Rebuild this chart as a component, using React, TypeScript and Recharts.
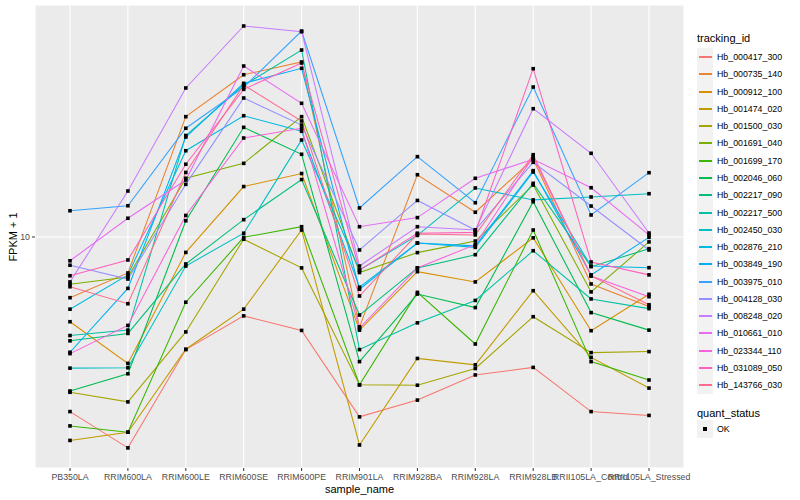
import React from 'react';
import { LineChart, Line, XAxis, YAxis, CartesianGrid } from 'recharts';

const FONT = "'Liberation Sans', Arial, Helvetica, sans-serif";

const samples = [
  'PB350LA', 'RRIM600LA', 'RRIM600LE', 'RRIM600SE', 'RRIM600PE', 'RRIM901LA',
  'RRIM928BA', 'RRIM928LA', 'RRIM928LB', 'RRII105LA_Control', 'RRII105LA_Stressed',
];

const trackingIds = [
  'Hb_000417_300', 'Hb_000735_140', 'Hb_000912_100', 'Hb_001474_020', 'Hb_001500_030',
  'Hb_001691_040', 'Hb_001699_170', 'Hb_002046_060', 'Hb_002217_090', 'Hb_002217_500',
  'Hb_002450_030', 'Hb_002876_210', 'Hb_003849_190', 'Hb_003975_010', 'Hb_004128_030',
  'Hb_008248_020', 'Hb_010661_010', 'Hb_023344_110', 'Hb_031089_050', 'Hb_143766_030',
];

const colors = [
  '#F8766D', '#EA8331', '#D89000', '#C09B00', '#A3A500', '#7CAE00', '#39B600', '#00BB4E',
  '#00BF7D', '#00C1A3', '#00BFC4', '#00BAE0', '#00B0F6', '#35A2FF', '#9590FF', '#C77CFF',
  '#E76BF3', '#FA62DB', '#FF62BC', '#FF6C90',
];

// FPKM + 1 values per sample (same order as samples)
const hb000417_300 = [3.66, 2.97, 5.23, 6.35, 5.84, 3.55, 3.91, 4.52, 4.72, 3.66, 3.58];
const hb000735_140 = [7.05, 8.13, 19.99, 25.45, 27.39, 5.96, 14.31, 11.53, 15.67, 7.63, 6.7];
const hb000912_100 = [6.14, 4.83, 9.15, 13.37, 14.41, 5.85, 8.19, 7.72, 9.95, 5.83, 7.19];
const hb001474_020 = [3.1, 3.25, 5.24, 6.6, 10.41, 3.02, 4.97, 4.79, 7.34, 5.0, 4.19];
const hb001500_030 = [4.09, 3.87, 5.79, 9.87, 8.37, 4.27, 4.26, 4.69, 6.32, 5.14, 5.17];
const hb001691_040 = [7.62, 7.94, 14.02, 15.28, 19.99, 8.15, 9.14, 9.77, 13.49, 7.29, 9.72];
const hb001699_170 = [3.37, 3.25, 6.87, 9.98, 10.61, 4.27, 7.27, 5.4, 10.41, 4.88, 4.39];
const hb002046_060 = [4.12, 4.55, 10.98, 18.8, 16.1, 4.88, 7.2, 6.66, 12.25, 6.47, 5.85];
const hb002217_090 = [5.5, 5.74, 8.56, 11.05, 13.92, 6.38, 8.37, 9.03, 13.62, 8.43, 9.35];
const hb002217_500 = [5.67, 5.85, 17.94, 23.95, 29.34, 5.23, 6.1, 6.94, 9.24, 7.0, 6.62];
const hb002450_030 = [4.7, 4.71, 8.46, 10.22, 17.48, 8.27, 10.09, 13.26, 12.38, 12.59, 12.83];
const hb002876_210 = [6.6, 8.04, 16.43, 20.1, 18.38, 7.49, 9.66, 9.42, 14.54, 8.46, 8.38];
const hb003849_190 = [5.15, 7.44, 17.78, 24.22, 26.41, 7.4, 9.66, 9.5, 14.65, 8.04, 9.98];
const hb003975_010 = [11.63, 11.97, 18.7, 23.67, 32.73, 11.82, 15.88, 12.18, 23.71, 11.35, 14.48];
const hb004128_030 = [8.5, 7.85, 13.54, 22.26, 19.05, 9.28, 12.34, 10.41, 15.37, 11.95, 9.28];
const hb008248_020 = [7.72, 13.03, 23.58, 33.69, 32.6, 8.46, 10.61, 10.41, 20.93, 16.19, 10.23];
const hb010661_010 = [8.72, 11.14, 13.88, 26.76, 21.59, 10.61, 11.18, 14.02, 15.64, 13.28, 10.12];
const hb023344_110 = [5.11, 6.01, 11.32, 17.68, 18.7, 5.92, 8.37, 9.57, 15.88, 7.99, 7.09];
const hb031089_050 = [8.0, 8.76, 15.2, 23.4, 27.23, 8.26, 10.22, 10.27, 26.35, 8.66, 8.04];
const hb143766_030 = [7.51, 6.81, 14.5, 23.99, 19.5, 7.12, 10.17, 10.12, 16.06, 7.99, 6.77];

const seriesValues = [
  hb000417_300, hb000735_140, hb000912_100, hb001474_020, hb001500_030,
  hb001691_040, hb001699_170, hb002046_060, hb002217_090, hb002217_500,
  hb002450_030, hb002876_210, hb003849_190, hb003975_010, hb004128_030,
  hb008248_020, hb010661_010, hb023344_110, hb031089_050, hb143766_030,
];

const yTicks = [10];

const data = samples.map((s, i) => {
  const row: Record<string, any> = { sample: s };
  trackingIds.forEach((id, k) => {
    row[id] = seriesValues[k][i];
  });
  return row;
});

const SquareDot = (props: any) => {
  const { cx, cy, index, dataKey } = props;
  if (cx == null || cy == null) return <g key={`${dataKey}-${index}`} />;
  return (
    <rect
      key={`${dataKey}-${index}`}
      x={cx - 1.8}
      y={cy - 1.8}
      width={3.6}
      height={3.6}
      fill="#000000"
    />
  );
};

const YTitle = () => (
  <text
    x={13}
    y={237}
    transform="rotate(-90 13 237)"
    textAnchor="middle"
    dominantBaseline="central"
    fontSize={11}
    fontFamily={FONT}
    fill="#000"
  >
    FPKM + 1
  </text>
);

const XTitle = () => (
  <text
    x={359.5}
    y={489}
    textAnchor="middle"
    dominantBaseline="central"
    fontSize={11}
    fontFamily={FONT}
    fill="#000"
  >
    sample_name
  </text>
);

const LegendBox = () => {
  const step = 17.28;
  const firstCenter = 57;
  return (
    <div style={{ position: 'absolute', left: 0, top: 0, width: 800, height: 500, pointerEvents: 'none', fontFamily: FONT }}>
      <div style={{ position: 'absolute', left: 697, top: 31, fontSize: 11, lineHeight: '14px', color: '#000' }}>tracking_id</div>
      {trackingIds.map((id, k) => {
        const c = firstCenter + k * step;
        return (
          <React.Fragment key={id}>
            <div style={{ position: 'absolute', left: 697, top: c - step / 2, width: 15.5, height: step, background: '#F2F2F2' }} />
            <div style={{ position: 'absolute', left: 698.5, top: Math.round(c) - 1, width: 13, height: 1.5, background: colors[k] }} />
            <div style={{ position: 'absolute', left: 717, top: c - 6, fontSize: 8.8, lineHeight: '12px', color: '#000', whiteSpace: 'nowrap' }}>{id}</div>
          </React.Fragment>
        );
      })}
      <div style={{ position: 'absolute', left: 697, top: 405.5, fontSize: 11, lineHeight: '14px', color: '#000' }}>quant_status</div>
      <div style={{ position: 'absolute', left: 697, top: 420.4, width: 15.5, height: 17.28, background: '#F2F2F2' }} />
      <div style={{ position: 'absolute', left: 703, top: 427.2, width: 3.6, height: 3.6, background: '#000' }} />
      <div style={{ position: 'absolute', left: 717, top: 423, fontSize: 8.8, lineHeight: '12px', color: '#000' }}>OK</div>
    </div>
  );
};

export default function App() {
  return (
    <div style={{ position: 'absolute', left: 0, top: 0, width: 800, height: 500, background: '#fff' }}>
      <LineChart
        width={800}
        height={500}
        data={data}
        margin={{ top: 5, right: 116, bottom: 0, left: 0 }}
      >
        <CartesianGrid fill="#EBEBEB" fillOpacity={1} stroke="#FFFFFF" strokeWidth={1.07} />
        <XAxis
          dataKey="sample"
          type="category"
          interval={0}
          height={32}
          padding={{ left: 35, right: 35 }}
          axisLine={false}
          tickLine={{ stroke: '#333333' }}
          tickSize={3}
          tickMargin={3}
          tick={{ fontSize: 8.8, fill: '#4D4D4D', fontFamily: FONT }}
          label={<XTitle />}
        />
        <YAxis
          type="number"
          scale="log"
          domain={[2.645, 38.02]}
          allowDataOverflow
          ticks={yTicks}
          width={35}
          axisLine={false}
          tickLine={{ stroke: '#333333' }}
          tickSize={3}
          tick={{ fontSize: 8.8, fill: '#4D4D4D', fontFamily: FONT }}
          label={<YTitle />}
        />
        {trackingIds.map((id, k) => (
          <Line
            key={id}
            type="linear"
            dataKey={id}
            stroke={colors[k]}
            strokeWidth={1.07}
            dot={false}
            activeDot={false}
            isAnimationActive={false}
          />
        ))}
        {trackingIds.map((id) => (
          <Line
            key={`${id}-pts`}
            type="linear"
            dataKey={id}
            stroke="none"
            dot={(p: any) => <SquareDot {...p} key={`${id}-${p.index}`} />}
            activeDot={false}
            legendType="none"
            isAnimationActive={false}
          />
        ))}
      </LineChart>
      <LegendBox />
    </div>
  );
}
